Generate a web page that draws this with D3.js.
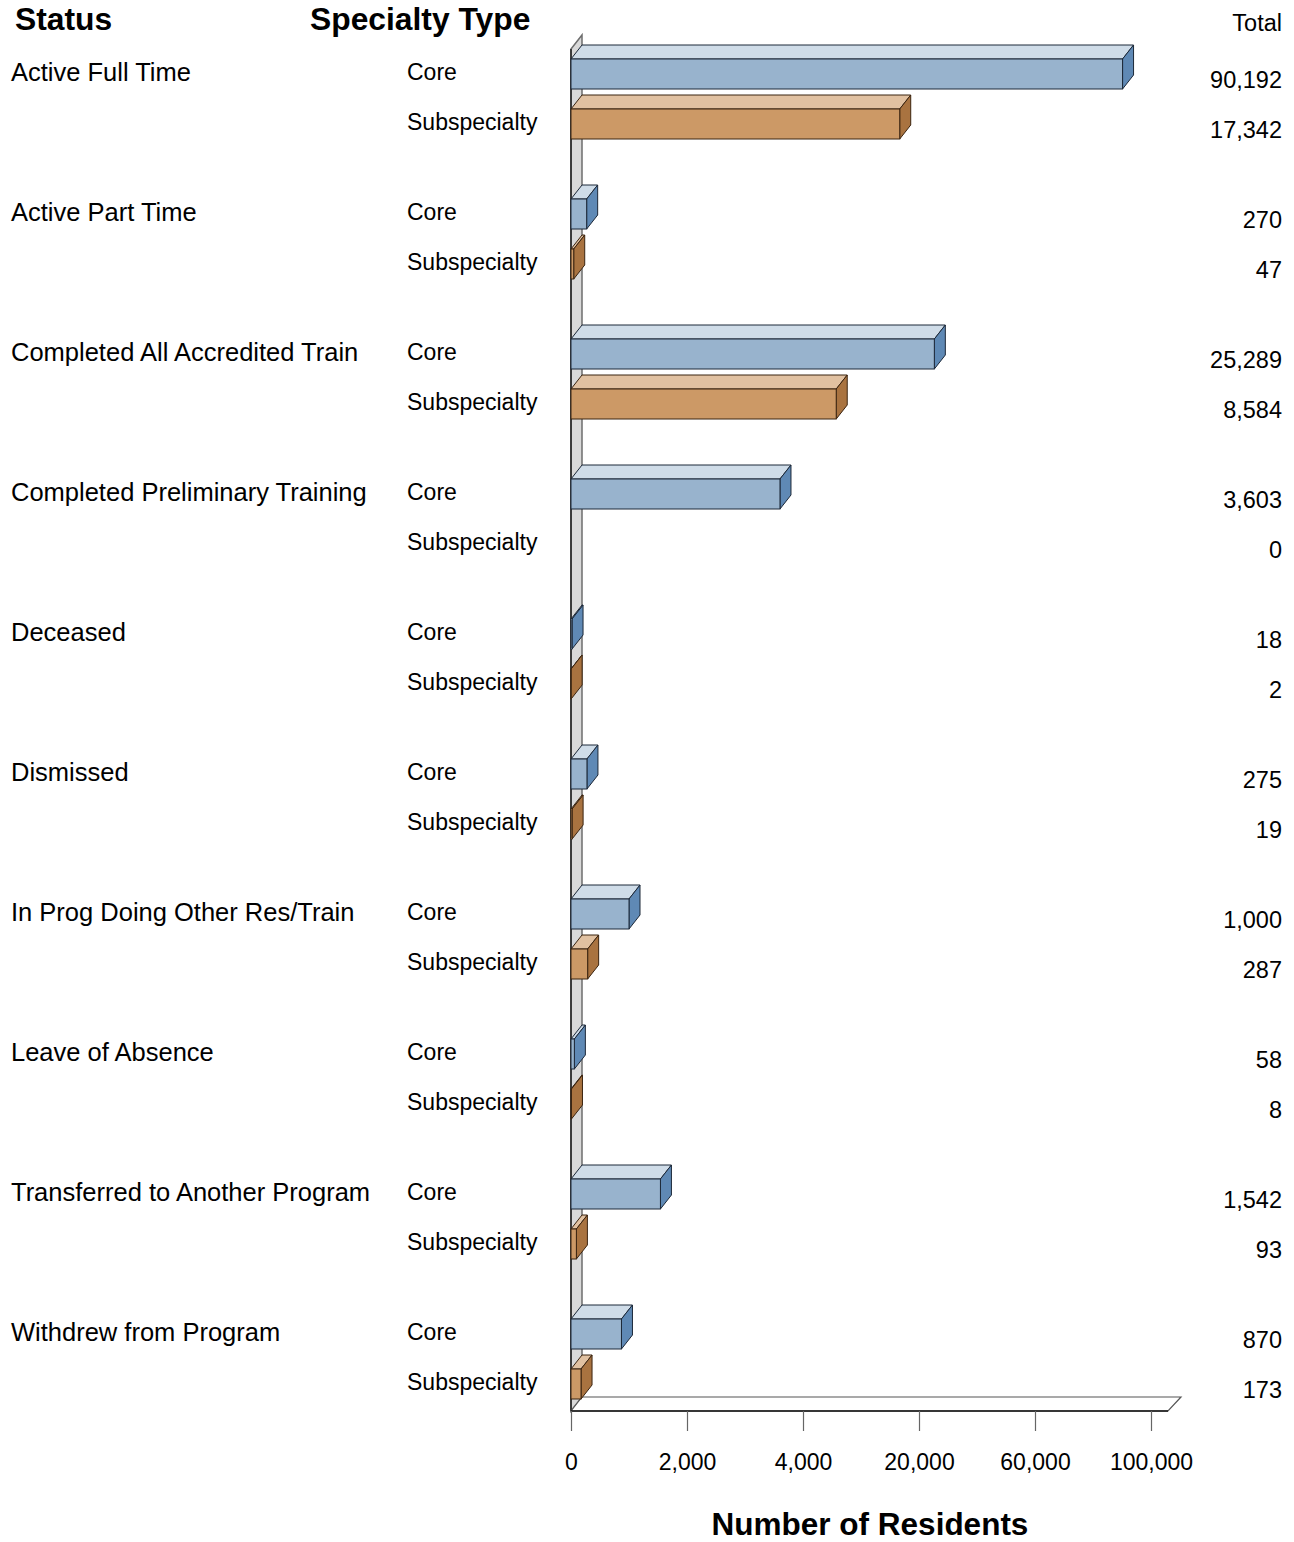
<!DOCTYPE html>
<html>
<head>
<meta charset="utf-8">
<script src="https://cdn.jsdelivr.net/npm/d3@7"></script>
<style>
  body { margin: 0; background: #fff; }
  svg text { font-family: "Liberation Sans", Arial, Helvetica, sans-serif; fill: #000; }
</style>
</head>
<body>
<div id="chart"></div>
<script>
// Data
var statuses = [
    "Active Full Time",
    "Active Part Time",
    "Completed All Accredited Train",
    "Completed Preliminary Training",
    "Deceased",
    "Dismissed",
    "In Prog Doing Other Res/Train",
    "Leave of Absence",
    "Transferred to Another Program",
    "Withdrew from Program"
];
var specialtyTypes = ["Core", "Subspecialty"];
var coreTotals = [90192, 270, 25289, 3603, 18, 275, 1000, 58, 1542, 870];
var subTotals = [17342, 47, 8584, 0, 2, 19, 287, 8, 93, 173];
var tickValues = [0, 2000, 4000, 20000, 60000, 100000];

// Dimensions
var width = 1294, height = 1542;
var plotLeft = 571, segW = 116;
var depthX = 11, depthY = 14;
var barH = 30;
var groupTop = 59, groupStep = 140;
var axisY = 1411;

var colors = {
    Core: { front: "#98b3cd", top: "#cfdce8", side: "#5f89b5", stroke: "#1c2838" },
    Subspecialty: { front: "#cc9966", top: "#e1c1a1", side: "#a97340", stroke: "#3b2410" }
};

var rows = [];
statuses.forEach(function(s, i) {
    rows.push({ status: s, type: "Core", value: coreTotals[i] });
    rows.push({ status: s, type: "Subspecialty", value: subTotals[i] });
});

// Scales - broken linear axis, equal width segments
var x = d3.scaleLinear()
    .domain(tickValues)
    .range(tickValues.map(function(d, i) { return plotLeft + i * segW; }));

var yGroup = d3.scaleBand()
    .domain(statuses)
    .range([groupTop, groupTop + groupStep * statuses.length]);

var yType = d3.scalePoint()
    .domain(specialtyTypes)
    .range([0, 50]);

function rowY(d) { return yGroup(d.status) + yType(d.type); }

var svg = d3.select("#chart").append("svg")
    .attr("width", width)
    .attr("height", height);

svg.append("rect").attr("width", width).attr("height", height).attr("fill", "#fff");

// Headers
svg.append("text").attr("x", 15).attr("y", 19).attr("dy", "0.35em")
    .style("font-weight", "bold").style("font-size", "31.8px").text("Status");
svg.append("text").attr("x", 310).attr("y", 19).attr("dy", "0.35em")
    .style("font-weight", "bold").style("font-size", "31.8px").text("Specialty Type");
svg.append("text").attr("x", 1282).attr("y", 23).attr("dy", "0.35em")
    .attr("text-anchor", "end").style("font-size", "23.5px").text("Total");

// Wall (left side panel) and floor
var wallTop = yGroup.range()[0] - 10;
var x0 = x(0), xMax = x(tickValues[tickValues.length - 1]);

svg.append("path")
    .attr("d", "M" + x0 + "," + axisY + "L" + x0 + "," + wallTop +
        "L" + (x0 + depthX) + "," + (wallTop - depthY) +
        "L" + (x0 + depthX) + "," + (axisY - depthY) + "Z")
    .attr("fill", "#d9d9d9")
    .attr("stroke", "#6e6e6e")
    .attr("stroke-width", 1.5);
svg.append("line")
    .attr("x1", x0).attr("x2", x0).attr("y1", wallTop).attr("y2", axisY)
    .attr("stroke", "#222").attr("stroke-width", 1.5);

svg.append("path")
    .attr("d", "M" + x0 + "," + axisY + "L" + (x0 + depthX) + "," + (axisY - depthY) +
        "L" + (xMax + 30) + "," + (axisY - depthY) +
        "L" + (xMax + 17) + "," + axisY + "Z")
    .attr("fill", "#fff")
    .attr("stroke", "#555")
    .attr("stroke-width", 1.2);
svg.append("line")
    .attr("x1", x0).attr("x2", xMax + 17).attr("y1", axisY).attr("y2", axisY)
    .attr("stroke", "#111").attr("stroke-width", 1.5);

// Axis
var axis = svg.append("g")
    .attr("transform", "translate(0," + axisY + ")")
    .call(d3.axisBottom(x).tickValues(tickValues).tickSize(20).tickFormat(d3.format(",")));
axis.select(".domain").remove();
axis.selectAll(".tick line").attr("stroke", "#666").attr("stroke-width", 1.2);
axis.selectAll(".tick text")
    .attr("y", 51).attr("dy", "0.35em")
    .style("font-size", "23px")
    .attr("fill", "#000");

svg.append("text")
    .attr("x", 870).attr("y", 1535)
    .attr("text-anchor", "middle")
    .style("font-weight", "bold").style("font-size", "31.5px")
    .text("Number of Residents");

// Bars
var bars = svg.append("g").attr("class", "bars")
    .selectAll("g")
    .data(rows.filter(function(d) { return d.value > 0; }))
    .enter()
    .append("g");

bars.append("path")
    .attr("d", function(d) {
        var y0 = rowY(d), x1 = x(d.value);
        return "M" + x0 + "," + y0 + "L" + (x0 + depthX) + "," + (y0 - depthY) +
            "L" + (x1 + depthX) + "," + (y0 - depthY) + "L" + x1 + "," + y0 + "Z";
    })
    .attr("fill", function(d) { return colors[d.type].top; })
    .attr("stroke", function(d) { return colors[d.type].stroke; })
    .attr("stroke-width", 1)
    .attr("stroke-linejoin", "round");

bars.append("path")
    .attr("d", function(d) {
        var y0 = rowY(d), x1 = x(d.value);
        return "M" + x1 + "," + y0 + "L" + (x1 + depthX) + "," + (y0 - depthY) +
            "L" + (x1 + depthX) + "," + (y0 - depthY + barH) + "L" + x1 + "," + (y0 + barH) + "Z";
    })
    .attr("fill", function(d) { return colors[d.type].side; })
    .attr("stroke", function(d) { return colors[d.type].stroke; })
    .attr("stroke-width", 1)
    .attr("stroke-linejoin", "round");

bars.append("rect")
    .attr("x", x0)
    .attr("y", rowY)
    .attr("width", function(d) { return Math.max(0, x(d.value) - x0); })
    .attr("height", barH)
    .attr("fill", function(d) { return colors[d.type].front; })
    .attr("stroke", function(d) { return colors[d.type].stroke; })
    .attr("stroke-width", 1);

// Labels
svg.append("g").selectAll("text")
    .data(statuses)
    .enter().append("text")
    .attr("x", 11)
    .attr("y", function(d) { return yGroup(d) + 13; })
    .attr("dy", "0.35em")
    .style("font-size", "25.5px")
    .text(function(d) { return d; });

svg.append("g").selectAll("text")
    .data(rows)
    .enter().append("text")
    .attr("x", 407)
    .attr("y", function(d) { return rowY(d) + 13; })
    .attr("dy", "0.35em")
    .style("font-size", "23px")
    .text(function(d) { return d.type; });

svg.append("g").selectAll("text")
    .data(rows)
    .enter().append("text")
    .attr("x", 1282)
    .attr("y", function(d) { return rowY(d) + 21; })
    .attr("dy", "0.35em")
    .attr("text-anchor", "end")
    .style("font-size", "23.5px")
    .text(function(d) { return d3.format(",")(d.value); });
</script>
</body>
</html>
